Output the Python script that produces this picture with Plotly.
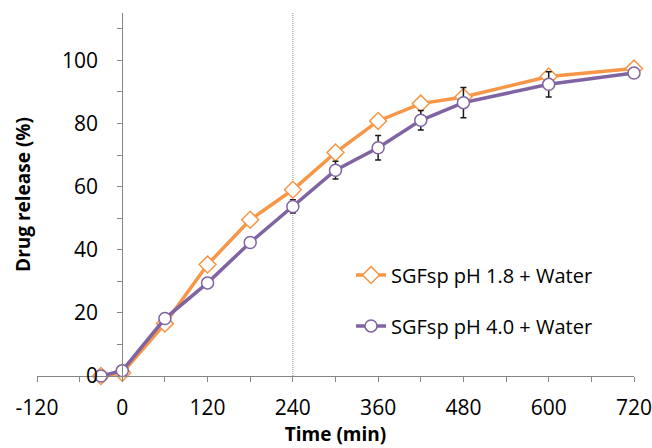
import plotly.graph_objects as go

time_min = [-30, 0, 60, 120, 180, 240, 300, 360, 420, 480, 600, 720]
ph18_release = [0, 1.0, 16.6, 35.3, 49.5, 59.0, 70.8, 80.8, 86.3, 88.4, 94.9, 97.4]
ph18_err = [0, 0, 0.5, 0.8, 0.8, 0.8, 0.8, 0.8, 0.8, 1.0, 1.0, 0.8]
ph40_release = [0, 1.7, 18.2, 29.5, 42.3, 53.7, 65.2, 72.3, 81.0, 86.6, 92.4, 96.0]
ph40_err = [0, 0, 0.5, 0.8, 0.8, 2.1, 2.8, 3.9, 3.1, 4.8, 4.0, 1.0]

x_ticks = list(range(-120, 721, 60))
x_labels = [str(v) if v % 120 == 0 else "" for v in x_ticks]
y_ticks = list(range(0, 111, 10))
y_labels = [str(v) if v % 20 == 0 else "" for v in y_ticks]

name18 = "SGFsp pH 1.8 + Water"
name40 = "SGFsp pH 4.0 + Water"
orange = "#F79646"
purple = "#8064A2"
font_family = "Open Sans"

fig = go.Figure()
fig.add_trace(go.Scatter(
    x=time_min, y=ph18_release, name=name18, mode="lines+markers",
    line=dict(color=orange, width=3.5),
    marker=dict(symbol="diamond", size=13, color="white", line=dict(color=orange, width=1.5)),
    error_y=dict(type="data", array=ph18_err, visible=True, color="#1a1a1a", thickness=1.5, width=3),
    cliponaxis=False, legend="legend",
))
fig.add_trace(go.Scatter(
    x=time_min, y=ph40_release, name=name40, mode="lines+markers",
    line=dict(color=purple, width=3.5),
    marker=dict(symbol="circle", size=12, color="white", line=dict(color=purple, width=1.5)),
    error_y=dict(type="data", array=ph40_err, visible=True, color="#1a1a1a", thickness=1.5, width=3),
    cliponaxis=False, legend="legend2",
))

fig.add_shape(type="line", x0=240, x1=240, y0=0, y1=115, xref="x", yref="y",
              line=dict(color="#8a8a8a", width=1, dash="1px,1px"), layer="below")

axis_line = "#868686"
fig.update_layout(
    width=652, height=448,
    margin=dict(l=37, r=18, t=13, b=72, autoexpand=False),
    paper_bgcolor="white", plot_bgcolor="white",
    font=dict(family=font_family, color="#000000", size=20),
    xaxis=dict(
        range=[-120, 720], domain=[0, 1], automargin=False,
        tickmode="array", tickvals=x_ticks, ticktext=x_labels,
        ticks="outside", ticklen=5, tickcolor=axis_line, tickwidth=1,
        showline=True, linecolor=axis_line, linewidth=1,
        showgrid=False, zeroline=False, ticklabeloverflow="allow",
        tickfont=dict(size=21), ticklabelstandoff=8,
        title=dict(text="<b>Time (min)</b>", font=dict(size=19), standoff=4),
    ),
    yaxis=dict(
        range=[0, 115], anchor="free", position=1/7, automargin=False,
        tickmode="array", tickvals=y_ticks, ticktext=y_labels,
        ticks="outside", ticklen=5, tickcolor=axis_line, tickwidth=1,
        showline=True, linecolor=axis_line, linewidth=1,
        showgrid=False, zeroline=False, ticklabeloverflow="allow",
        tickfont=dict(size=21), ticklabelstandoff=15,
        title=dict(text="<b>Drug release (%)</b>", font=dict(size=19), standoff=25),
    ),
    legend=dict(x=0.526, y=0.278, xanchor="left", yanchor="middle",
                bgcolor="rgba(0,0,0,0)", font=dict(size=20)),
    legend2=dict(x=0.526, y=0.138, xanchor="left", yanchor="middle",
                 bgcolor="rgba(0,0,0,0)", font=dict(size=20)),
    showlegend=True,
)

fig.write_html("out.html", config={"displayModeBar": False},
               post_script="document.body.style.margin='0px';")
